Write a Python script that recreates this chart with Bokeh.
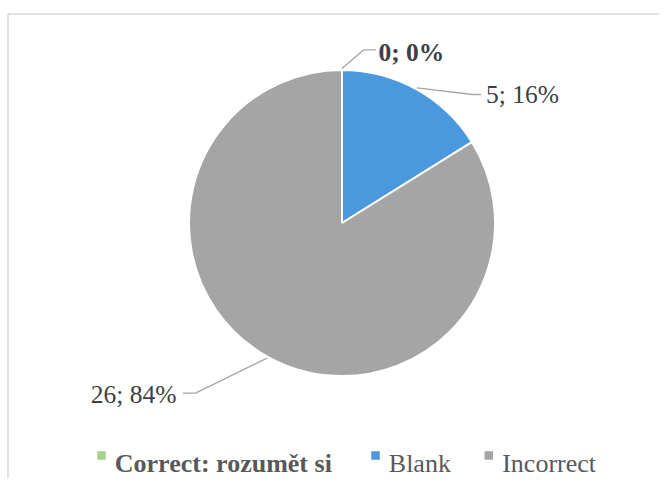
import math
from bokeh.plotting import figure
from bokeh.models import ColumnDataSource, Range1d
from bokeh.core.properties import value
from bokeh.embed import file_html
from bokeh.resources import INLINE

# ---- data ----
categories = ["Correct: rozumět si", "Blank", "Incorrect"]
counts = [0, 5, 26]
colors = ["#A9D18E", "#4A98DE", "#A5A5A5"]
legend_bold = [True, False, False]

total = sum(counts)
pcts = [round(100 * c / total) for c in counts]
label_texts = [f"{c}; {p}%" for c, p in zip(counts, pcts)]

# ---- layout (pixel-scaled data space, pie centre at 0,0) ----
W, H = 659, 478
CX, CY = 341.5, 222.5   # pie centre in picture pixels
x0 = -CX
y1 = CY
R = 153

p = figure(width=W, height=H, output_backend="svg", toolbar_location=None,
           x_range=Range1d(x0, x0 + W), y_range=Range1d(y1 - H, y1),
           min_border=0, outline_line_color=None)
p.axis.visible = False
p.grid.visible = False
p.background_fill_color = "white"
p.border_fill_color = "white"

def px(x):  # picture x -> data x
    return x - CX
def py(y):  # picture y -> data y
    return CY - y

# chart area frame (only top/left visible in reference)
p.segment(x0=[px(7.5), px(7.5)], y0=[py(13.5), py(13.5)],
          x1=[px(7.5), x0 + W], y1=[y1 - H, py(13.5)],
          line_color="#D9D9D9", line_width=1.5)

# ---- pie wedges ----
cum = [0]
for c in counts:
    cum.append(cum[-1] + c)
start = [math.pi / 2 - 2 * math.pi * cum[i] / total for i in range(len(counts))]
end = [math.pi / 2 - 2 * math.pi * cum[i + 1] / total for i in range(len(counts))]
src = ColumnDataSource(dict(start=start, end=end, color=colors, cat=categories))
p.wedge(x=0, y=0, radius=R, start_angle="start", end_angle="end",
        direction="clock", fill_color="color", line_color="white",
        line_width=2, source=src)

# ---- leader lines and labels ----
mid = [(cum[i] + cum[i + 1]) / 2 / total * 2 * math.pi for i in range(len(counts))]
lr = R + 1.5
starts = [(lr * math.sin(a), lr * math.cos(a)) for a in mid]
elbows = [(px(363.3), py(49.3)), (px(471.7), py(94.0)), (px(195.0), py(392.7))]
ends = [(px(375.5), py(49.3)), (px(480.5), py(94.0)), (px(182.5), py(392.7))]
p.multi_line(xs=[[s[0], e[0], f[0]] for s, e, f in zip(starts, elbows, ends)],
             ys=[[s[1], e[1], f[1]] for s, e, f in zip(starts, elbows, ends)],
             line_color="#A6A6A6", line_width=1.3)

lab_pos = [(px(378.0), py(51.8), "left"), (px(485.5), py(94.0), "left"),
           (px(176.0), py(394.0), "right")]
for txt, (lx, ly, al), bold in zip(label_texts, lab_pos, legend_bold):
    p.text(x=[lx], y=[ly], text=[txt], text_font=value("Liberation Serif"),
           text_font_size="25.5px", text_color="#404040",
           text_font_style="bold" if bold else "normal",
           text_align=al, text_baseline="alphabetic")

# ---- legend ----
leg_sq_x = [px(101.0), px(375.0), px(488.3)]
leg_tx_x = [px(114.3), px(388.3), px(501.7)]
p.rect(x=leg_sq_x, y=[py(455.0)] * 3, width=8.5, height=8.5,
       fill_color=colors, line_color=None)
for name, tx, bold in zip(categories, leg_tx_x, legend_bold):
    p.text(x=[tx], y=[py(463.3)], text=[name], text_font=value("Liberation Serif"),
           text_font_size="26px", text_color="#595959",
           text_font_style="bold" if bold else "normal",
           text_align="left", text_baseline="alphabetic")

open("out.html", "w").write(file_html(p, INLINE))
